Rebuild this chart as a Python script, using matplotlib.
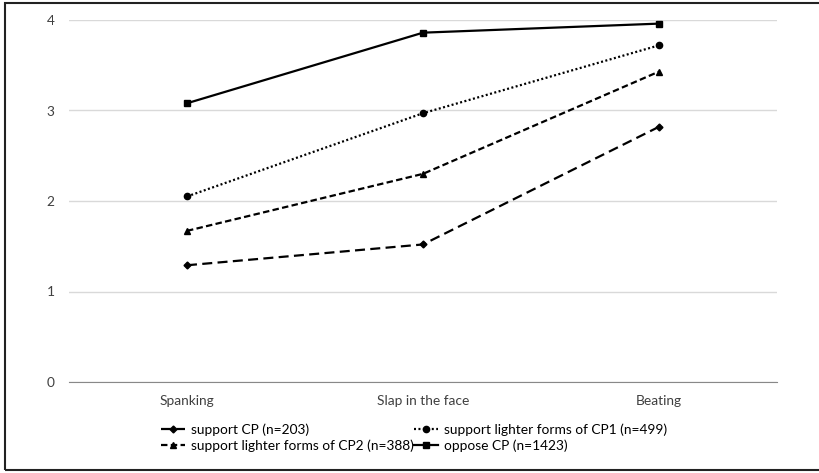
import matplotlib.pyplot as plt
from matplotlib.patches import Rectangle

plt.rcParams['font.family'] = ['Lato', 'DejaVu Sans']

categories = ['Spanking', 'Slap in the face', 'Beating']
support_cp = [1.29, 1.52, 2.82]
lighter_cp1 = [2.05, 2.97, 3.72]
lighter_cp2 = [1.67, 2.30, 3.43]
oppose_cp = [3.08, 3.86, 3.96]
y_ticks = [0, 1, 2, 3, 4]

W, H = 819, 473
fig = plt.figure(figsize=(W / 100, H / 100), dpi=100)
renderer = fig.canvas.get_renderer()


def fit_size(text, target_px, base=10):
    # font size that makes `text` about target_px wide
    t = fig.text(0, 0, text, fontsize=base)
    w = t.get_window_extent(renderer).width
    t.remove()
    return base * target_px / w


tick_fs = fit_size('Slap in the face', 92)
leg_fs = fit_size('support lighter forms of CP2 (n=388)', 223)

ax = fig.add_axes([69 / W, (H - 382) / H, 708 / W, 362 / H])

x = list(range(len(categories)))
l1, = ax.plot(x, support_cp, color='black', lw=1.6, ls=(0, (4.5, 2.4)),
              marker='D', ms=3.5, label='support CP (n=203)')
l2, = ax.plot(x, lighter_cp1, color='black', lw=1.6, ls=(0, (0.9, 1.1)),
              marker='o', ms=4.5, label='support lighter forms of CP1 (n=499)')
l3, = ax.plot(x, lighter_cp2, color='black', lw=1.6, ls=(0, (2.9, 1.5)),
              marker='^', ms=5, label='support lighter forms of CP2 (n=388)')
l4, = ax.plot(x, oppose_cp, color='black', lw=1.6, marker='s', ms=4.5,
              label='oppose CP (n=1423)')

ax.set_xlim(-0.5, 2.5)
ax.set_ylim(0, 4)
ax.set_yticks(y_ticks)
ax.set_xticks(x)
ax.set_xticklabels(categories)
ax.yaxis.grid(True, color='#d9d9d9', lw=1)
ax.set_axisbelow(True)
for s in ['top', 'right', 'left']:
    ax.spines[s].set_visible(False)
ax.spines['bottom'].set_color('#888888')
ax.tick_params(axis='both', length=0, labelsize=tick_fs, colors='#404040')
ax.tick_params(axis='y', pad=10.5)
ax.tick_params(axis='x', pad=9)

# two single-column legends so each column sits where it should
leg_kw = dict(loc='upper left', frameon=False, fontsize=leg_fs,
              handlelength=24 / (leg_fs * 100 / 72), handletextpad=0.4,
              labelspacing=0.3, borderpad=0, borderaxespad=0,
              bbox_transform=fig.transFigure)
leg1 = fig.legend([l1, l3], [l1.get_label(), l3.get_label()],
                  bbox_to_anchor=(161 / W, 1 - 423 / H), **leg_kw)
leg2 = fig.legend([l2, l4], [l2.get_label(), l4.get_label()],
                  bbox_to_anchor=(414 / W, 1 - 423 / H), **leg_kw)

fig.patches.append(Rectangle((4.5 / W, 3.5 / H), 820 / W, 466 / H,
                             transform=fig.transFigure, fill=False,
                             edgecolor='#222222', lw=1.5))

fig.savefig('out.png', dpi=100)
